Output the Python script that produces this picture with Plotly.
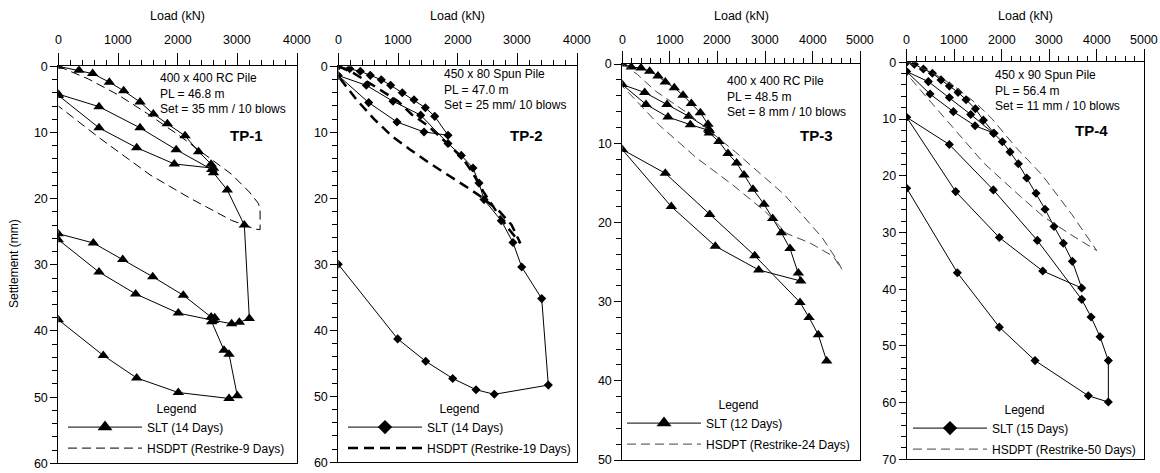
import plotly.graph_objects as go

# ---------------- data ----------------
# TP-1 (SLT, 14 days)
tp1_slt_load = [0, 346, 575, 855, 1095, 1369, 1592, 1827, 2123, 2350, 2560, 2600,
                1943, 1313, 682, 0,
                0, 682, 1369, 1975, 2570, 2600, 2831, 3116, 3200,
                3032, 2904, 2600, 2010, 1296, 682, 0,
                0, 587, 1079, 1581, 2094, 2560, 2620, 2569, 2776, 2860, 2998,
                2860, 2010, 1313, 754, 0]
tp1_slt_settle = [0, 0.6, 1.1, 2.4, 3.7, 5.4, 7.2, 8.7, 10.5, 12.9, 14.8, 15.4,
                  14.76, 12.3, 9.3, 4.4,
                  4.2, 6.1, 9.3, 12.6, 15.6, 16.1, 18.7, 24.0, 38.1,
                  38.7, 38.9, 38.4, 37.3, 34.4, 31.1, 26.2,
                  25.3, 26.7, 29.2, 31.8, 34.6, 37.9, 38.0, 38.6, 42.9, 43.5, 49.8,
                  50.2, 49.3, 47.1, 43.7, 38.3]
tp1_hs_load = [0, 500, 1000, 1500, 2000, 2500, 2900, 3200, 3350, 3380, 3380, 3300,
               2905, 2200, 1536, 700, 0]
tp1_hs_settle = [0, 1.9, 4.3, 7.2, 10.3, 13.6, 16.3, 19.0, 20.7, 21.6, 24.7, 24.6,
                 23.3, 19.9, 16.4, 10.9, 6.0]

# TP-2 (SLT, 14 days)
tp2_slt_load = [0, 191, 369, 536, 720, 877, 1072, 1268, 1458, 1615, 1838,
                1436, 983, 509, 0,
                469, 916, 1380, 1838, 2060, 2256, 2357, 2441, 2730, 2926, 3072, 3407, 3518,
                2613, 2307, 1916, 1464, 995, 0]
tp2_slt_settle = [0, 0.36, 0.76, 1.37, 2.03, 2.88, 4.0, 5.06, 6.27, 7.58, 10.45,
                  9.95, 8.44, 5.5, 1.4,
                  2.88, 5.3, 7.4, 11.7, 13.5, 15.4, 17.7, 20.2, 23.4, 26.7, 30.4, 35.2, 48.3,
                  49.7, 49.0, 47.3, 44.7, 41.3, 30.0]
tp2_hs_load = [0, 250, 640, 1000, 1230, 1500, 1800, 2080, 2240, 2430, 2650, 2850, 3050,
               2900, 2700, 2400, 2100, 1800, 1500, 1200, 900, 600, 300, 0]
tp2_hs_settle = [0, 1.0, 3.2, 5.3, 7.3, 9.0, 11.5, 13.9, 16.0, 19.0, 22.0, 24.6, 26.8,
                 24.0, 22.0, 19.8, 18.0, 16.3, 14.5, 12.6, 10.6, 8.0, 5.0, 1.5]

# TP-3 (SLT, 12 days)
tp3_slt_load = [0, 189, 393, 575, 750, 904, 1093, 1276, 1451, 1640, 1801, 1829,
                1430, 961, 498, 0,
                471, 940, 1396, 1815, 1829, 2032, 2221, 2404, 2558, 2747, 2978, 3160, 3343,
                3525, 3700, 3750,
                2867, 1955, 1030, 0,
                904, 1837, 2783, 3735, 3925, 4120, 4296]
tp3_slt_settle = [0, 0.38, 0.5, 0.9, 1.5, 2.27, 3.0, 3.95, 5.0, 6.15, 7.6, 8.4,
                  7.66, 6.7, 5.1, 2.6,
                  3.6, 5.1, 6.6, 8.2, 8.7, 9.8, 11.3, 12.5, 14.0, 15.8, 17.7, 19.5, 21.3,
                  23.3, 26.4, 27.4,
                  26.0, 23.0, 18.0, 10.8,
                  13.8, 19.0, 24.2, 30.1, 32.0, 34.2, 37.5]
tp3_hs_load = [0, 315, 694, 1396, 2376, 3406, 4198, 4507, 4612,
               4436, 3946, 3456, 3000, 2306, 1570, 765, 400, 0]
tp3_hs_settle = [0, 1.3, 3.4, 6.3, 11.1, 16.5, 21.9, 24.7, 25.9,
                 24.3, 22.6, 21.4, 18.6, 15.2, 11.9, 7.66, 5.3, 2.8]

# TP-4 (SLT, 15 days)
tp4_slt_load = [0, 162, 351, 541, 723, 899, 1081, 1250, 1447, 1615, 1840,
                1440, 983, 492, 0,
                456, 899, 1348, 1826, 2014, 2176, 2352, 2528, 2724, 2914, 3103, 3299, 3489, 3686,
                2865, 1951, 1032, 0,
                898, 1825, 2751, 3686, 3883, 4072, 4247, 4247,
                3826, 2703, 1951, 1067, 0]
tp4_slt_settle = [0, 0.35, 1.17, 1.94, 3.1, 4.2, 5.3, 6.6, 8.2, 10.2, 12.5,
                  11.2, 8.7, 5.6, 1.64,
                  3.4, 6.2, 9.2, 12.5, 14.0, 15.8, 17.9, 20.4, 23.1, 25.9, 28.95, 31.9, 35.1, 39.8,
                  36.8, 30.9, 22.8, 9.7,
                  14.5, 22.5, 31.4, 41.8, 44.9, 48.4, 52.6, 59.9,
                  58.8, 52.6, 46.7, 37.1, 22.2]
tp4_hs_load = [0, 500, 1000, 1500, 1800, 2300, 2844, 3476, 4002,
               3800, 3440, 2878, 2401, 1628, 912, 600, 300, 0]
tp4_hs_settle = [0, 1.6, 4.2, 7.5, 10.0, 15.0, 19.8, 26.8, 33.2,
                 32.2, 30.3, 27.2, 23.7, 17.8, 11.0, 8.0, 5.0, 2.0]

slt_names = ["SLT (14 Days)", "SLT (14 Days)", "SLT (12 Days)", "SLT (15 Days)"]
hs_names = ["HSDPT (Restrike-9 Days)", "HSDPT (Restrike-19 Days)",
            "HSDPT (Restrike-24 Days)", "HSDPT (Restrike-50 Days)"]
pile_info = ["400 x 400 RC Pile<br>PL = 46.8 m<br>Set = 35 mm / 10 blows",
             "450 x 80 Spun Pile<br>PL = 47.0 m<br>Set = 25 mm/ 10 blows",
             "400 x 400 RC Pile<br>PL = 48.5 m<br>Set = 8 mm / 10 blows",
             "450 x 90 Spun Pile<br>PL = 56.4 m<br>Set = 11 mm / 10 blows"]
tp_labels = ["TP-1", "TP-2", "TP-3", "TP-4"]
x_max = [4000, 4000, 5000, 5000]
y_max = [60, 60, 50, 70]
x_major, x_minor = 1000, 200
y_major, y_minor = 10, 2

# ---------------- layout constants ----------------
W, H = 1160, 473
FONT = "Liberation Sans, Arial, sans-serif"
# pixel boxes of each plot area: (left, right, top, bottom)
boxes = [(58.3, 297.1, 66.3, 463.3),
         (338.3, 577.1, 66.3, 462.3),
         (622.3, 860.2, 64.0, 460.0),
         (906.7, 1144.1, 62.3, 459.3)]
markers = ["triangle-up", "diamond", "triangle-up", "diamond"]
msizes = [10, 7, 10, 7]
leg_msizes = [13, 11, 13, 11]
hs_styles = [dict(color="black", width=1, dash="9px,5px"),
             dict(color="black", width=2.5, dash="10px,6px"),
             dict(color="#444444", width=1, dash="9px,5px"),
             dict(color="#444444", width=1, dash="9px,5px")]
info_pos = [(158, 93), (441.7, 90), (725, 96.5), (993.3, 91)]
tp_pos = [(246, 135), (526.7, 135), (816.7, 135), (1091.7, 130)]
legend_pos = [(63, 397), (343, 397), (622, 393), (908, 398)]

slt_data = [(tp1_slt_load, tp1_slt_settle), (tp2_slt_load, tp2_slt_settle),
            (tp3_slt_load, tp3_slt_settle), (tp4_slt_load, tp4_slt_settle)]
hs_data = [(tp1_hs_load, tp1_hs_settle), (tp2_hs_load, tp2_hs_settle),
           (tp3_hs_load, tp3_hs_settle), (tp4_hs_load, tp4_hs_settle)]

fig = go.Figure()
layout = dict(width=W, height=H,
              margin=dict(l=0, r=0, t=0, b=0, autoexpand=False),
              paper_bgcolor="white", plot_bgcolor="white",
              font=dict(family=FONT, size=12, color="black"),
              annotations=[])

for i in range(4):
    sfx = "" if i == 0 else str(i + 1)
    xa, ya = "x" + sfx, "y" + sfx
    lg = "legend" + sfx
    l, r, t, b = boxes[i]
    layout["xaxis" + sfx] = dict(
        domain=[l / W, r / W], range=[0, x_max[i]], side="top", anchor=ya,
        tickmode="linear", tick0=0, dtick=x_major,
        ticks="outside", ticklen=12, tickcolor="black", tickwidth=1,
        minor=dict(dtick=x_minor, ticks="outside", ticklen=5, tickwidth=1,
                   tickcolor="black"),
        showticklabels=False, automargin=False,
        showline=True, linecolor="black", linewidth=1, mirror=True,
        showgrid=False, zeroline=False, fixedrange=True)
    layout["yaxis" + sfx] = dict(
        domain=[1 - b / H, 1 - t / H], range=[y_max[i], 0], anchor=xa,
        tickmode="linear", tick0=0, dtick=y_major,
        ticks="outside", ticklen=7, tickcolor="black", tickwidth=1,
        minor=dict(dtick=y_minor, ticks="outside", ticklen=5, tickwidth=1,
                   tickcolor="black"),
        automargin=False,
        showline=True, linecolor="black", linewidth=1, mirror=True,
        showgrid=False, zeroline=False, tickfont=dict(size=12.5), fixedrange=True)

    # x tick labels (placed at the data values on the x axis scale)
    for v in range(0, x_max[i] + 1, x_major):
        layout["annotations"].append(dict(
            text=str(v), x=v, xref=xa, y=1 - 40 / H, yref="paper",
            showarrow=False, xanchor="center", yanchor="middle",
            font=dict(size=12.5)))

    # data traces
    fig.add_trace(go.Scatter(
        x=slt_data[i][0], y=slt_data[i][1], xaxis=xa, yaxis=ya,
        mode="lines+markers", name=slt_names[i], showlegend=False,
        line=dict(color="black", width=1),
        marker=dict(symbol=markers[i], size=msizes[i], color="black")))
    fig.add_trace(go.Scatter(
        x=hs_data[i][0], y=hs_data[i][1], xaxis=xa, yaxis=ya,
        mode="lines", name=hs_names[i], showlegend=False,
        line=hs_styles[i]))
    # legend-only samples (no data drawn)
    fig.add_trace(go.Scatter(
        x=[None], y=[None], xaxis=xa, yaxis=ya, legend=lg, legendgroup="s%d" % i,
        mode="lines+markers", name=slt_names[i],
        line=dict(color="black", width=1),
        marker=dict(symbol=markers[i], size=leg_msizes[i], color="black")))
    fig.add_trace(go.Scatter(
        x=[None], y=[None], xaxis=xa, yaxis=ya, legend=lg, legendgroup="h%d" % i,
        mode="lines", name=hs_names[i], line=hs_styles[i]))

    lx, ly = legend_pos[i]
    layout[lg] = dict(
        x=lx / W, y=1 - ly / H, xanchor="left", yanchor="top",
        bgcolor="rgba(0,0,0,0)", borderwidth=0,
        font=dict(family=FONT, size=12, color="black"),
        title=dict(text="Legend", side="top center", font=dict(size=12)),
        itemwidth=74, itemsizing="trace", traceorder="grouped",
        tracegroupgap=2)

    # axis title
    layout["annotations"].append(dict(
        text="Load (kN)", x=(l + r) / 2 / W, y=1 - 16 / H, xref="paper", yref="paper",
        showarrow=False, font=dict(size=12.5), xanchor="center", yanchor="middle"))
    # pile info
    px, py = info_pos[i]
    layout["annotations"].append(dict(
        text=pile_info[i], x=px / W, y=1 - py / H, xref="paper", yref="paper",
        showarrow=False, align="left", xanchor="left", yanchor="middle",
        font=dict(size=12)))
    tx, ty = tp_pos[i]
    layout["annotations"].append(dict(
        text="<b>%s</b>" % tp_labels[i], x=tx / W, y=1 - ty / H, xref="paper", yref="paper",
        showarrow=False, xanchor="center", yanchor="middle", font=dict(size=15)))

layout["annotations"].append(dict(
    text="Settlement (mm)", x=14 / W, y=1 - 264 / H, xref="paper", yref="paper",
    showarrow=False, textangle=-90, xanchor="center", yanchor="middle",
    font=dict(size=12)))

fig.update_layout(**layout)
fig.write_html("out.html")
